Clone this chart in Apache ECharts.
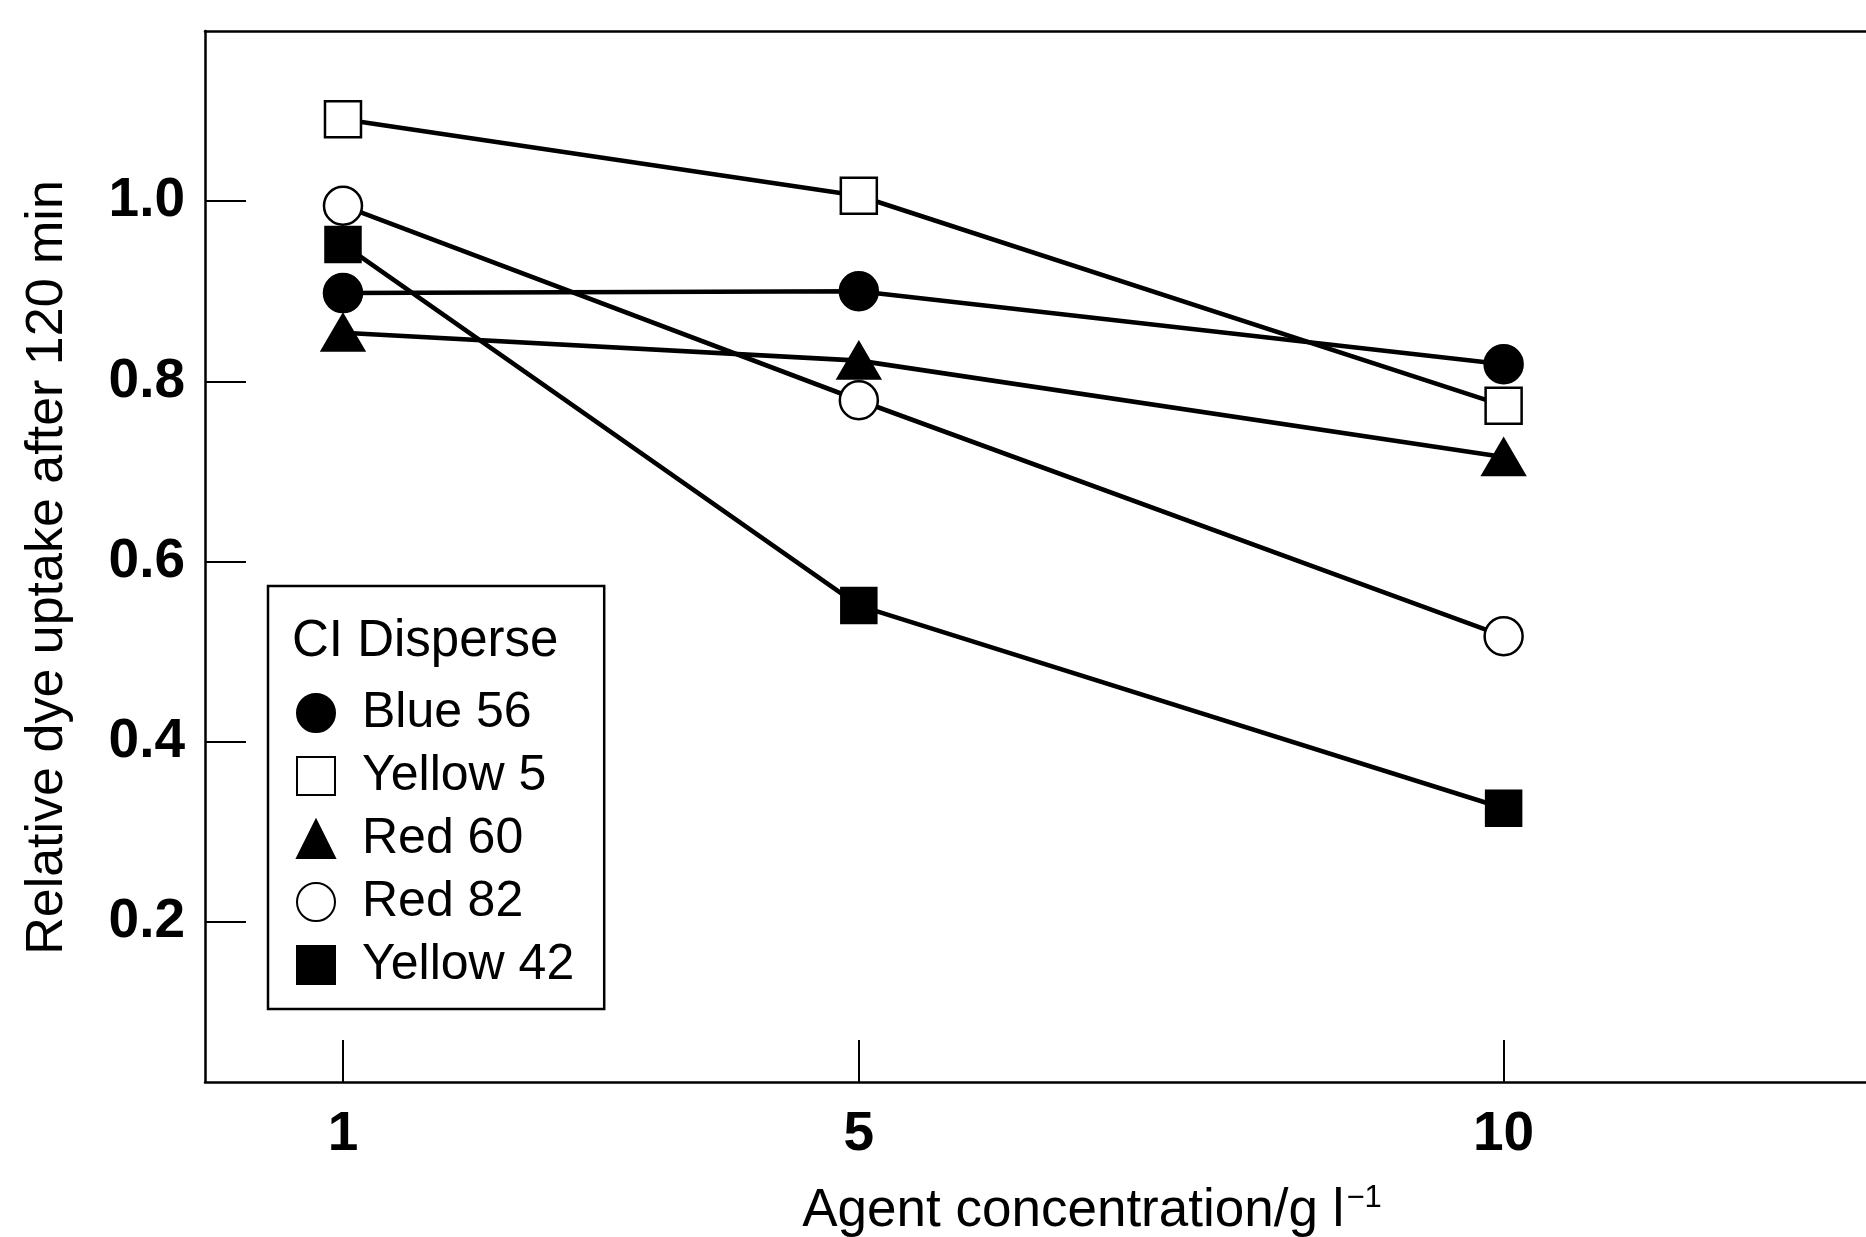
<!DOCTYPE html>
<html><head><meta charset="utf-8">
<script src="https://cdn.jsdelivr.net/npm/echarts@6/dist/echarts.min.js"></script>
<style>html,body{margin:0;padding:0;background:#fff}#c{width:1866px;height:1237px}</style>
</head><body><div id="c"></div>
<script>
const concentrations = [1, 5, 10];
const blue56 = [0.898, 0.900, 0.819];
const yellow5 = [1.091, 1.006, 0.773];
const red60 = [0.854, 0.823, 0.716];
const red82 = [0.995, 0.779, 0.517];
const yellow42 = [0.952, 0.551, 0.326];
const seriesNames = ['Blue 56', 'Yellow 5', 'Red 60', 'Red 82', 'Yellow 42'];
const xTicks = [1, 5, 10];
const yTicks = [0.2, 0.4, 0.6, 0.8, 1.0];
const legendTitle = 'CI Disperse';
const xTitle = 'Agent concentration/g l';
const yTitle = 'Relative dye uptake after 120 min';

const FONT = '"Liberation Sans", Arial, Helvetica, sans-serif';
const pts = v => concentrations.map((x, i) => [x, v[i]]);

const styles = [
  { symbol: 'circle', size: 38, fill: '#000' },
  { symbol: 'rect', size: 36, fill: '#fff' },
  { symbol: 'triangle', size: [42, 36], fill: '#000' },
  { symbol: 'circle', size: 38, fill: '#fff' },
  { symbol: 'rect', size: 35, fill: '#000' }
];
const values = [blue56, yellow5, red60, red82, yellow42];

const series = values.map((v, i) => ({
  name: seriesNames[i],
  type: 'line',
  data: pts(v),
  symbol: styles[i].symbol,
  symbolSize: styles[i].size,
  showAllSymbol: true,
  lineStyle: { color: '#000', width: 4.6 },
  itemStyle: { color: styles[i].fill, borderColor: '#000', borderWidth: 2.5, opacity: 1 },
  emphasis: { disabled: true },
  animation: false,
  z: 2 + i
}));

const chart = echarts.init(document.getElementById('c'), null, { renderer: 'canvas' });
chart.setOption({
  backgroundColor: '#fff',
  animation: false,
  textStyle: { fontFamily: FONT },
  grid: { left: 205, top: 31, right: 0, bottom: 155, containLabel: false },
  xAxis: [{
    type: 'value', min: -0.07, max: 12.81,
    axisLine: { show: true, onZero: false, lineStyle: { color: '#000', width: 2.5 } },
    axisTick: { show: true, inside: true, length: 42, customValues: xTicks, lineStyle: { color: '#000', width: 2 } },
    axisLabel: { customValues: xTicks, margin: 25, fontSize: 55, fontWeight: 'bold', color: '#000', fontFamily: FONT },
    splitLine: { show: false }
  }, {
    type: 'value', position: 'top', min: -0.07, max: 12.81,
    axisLine: { show: true, onZero: false, lineStyle: { color: '#000', width: 2.5 } },
    axisTick: { show: false }, axisLabel: { show: false }, splitLine: { show: false }
  }],
  yAxis: {
    type: 'value', min: 0.022, max: 1.189,
    name: yTitle, nameLocation: 'middle', nameGap: 131,
    nameTextStyle: { fontSize: 52, color: '#000', fontFamily: FONT, padding: [0, 22, 0, 0] },
    axisLine: { show: true, onZero: false, lineStyle: { color: '#000', width: 2.5 } },
    axisTick: { show: true, inside: true, length: 41, customValues: yTicks, lineStyle: { color: '#000', width: 2 } },
    axisLabel: { customValues: yTicks, margin: 20, fontSize: 55, fontWeight: 'bold', color: '#000', fontFamily: FONT,
      formatter: v => Number(v).toFixed(1) },
    splitLine: { show: false }
  },
  legend: {
    orient: 'vertical', left: 268, top: 586,
    padding: [102, 30, 19, 28],
    itemGap: 13, itemWidth: 38, itemHeight: 38,
    borderColor: '#000', borderWidth: 2.5,
    selectedMode: false,
    textStyle: { fontSize: 50, color: '#000', fontFamily: FONT, padding: [0, 0, 0, 22] },
    data: seriesNames.map((n, i) => ({ name: n, icon: styles[i].symbol }))
  },
  graphic: [
    { type: 'text', left: 292, top: 616, z: 100,
      style: { text: legendTitle, fontSize: 51, fill: '#000', fontFamily: FONT } },
    { type: 'text', x: 1092, y: 1211, z: 100,
      style: { text: '{a|' + xTitle + '}{s|\u22121}', fill: '#000', align: 'center', verticalAlign: 'middle',
        rich: { a: { fontSize: 53, fontFamily: FONT, fill: '#000' },
                s: { fontSize: 31, fontFamily: FONT, fill: '#000', verticalAlign: 'top', padding: [0, 0, 25, 2] } } } }
  ],
  series: series
});
</script></body></html>
